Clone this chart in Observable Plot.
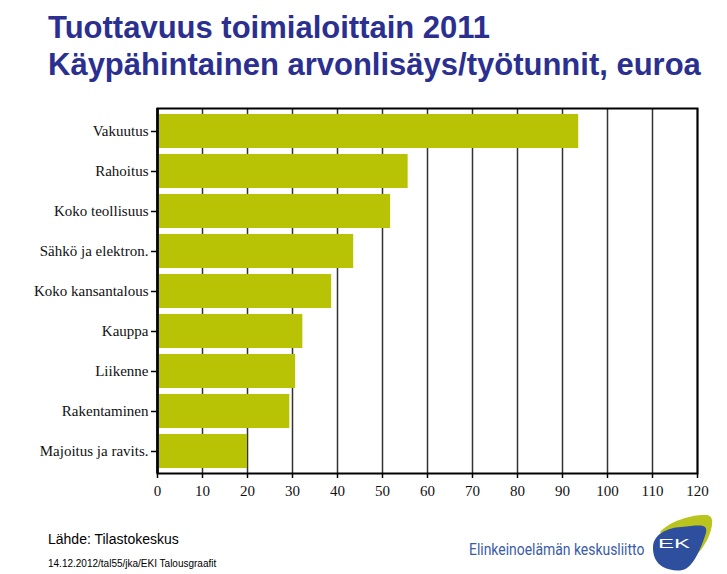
<!DOCTYPE html>
<html>
<head>
<meta charset="utf-8">
<script src="https://cdn.jsdelivr.net/npm/d3@7"></script>
<script src="https://cdn.jsdelivr.net/npm/@observablehq/plot@0.6"></script>
<style>
  html, body { margin: 0; padding: 0; background: #fff; }
  #page { position: relative; width: 727px; height: 574px; overflow: hidden; background: #fff; }
  .title { position: absolute; left: 48px; font-family: "Liberation Sans", Arial, sans-serif; font-weight: bold; font-size: 31px; color: #2b2f8f; white-space: nowrap; line-height: 1; }
  #chart { position: absolute; left: 0; top: 94px; }
  #chart svg { display: block; }
  .src { position: absolute; left: 48px; top: 531px; font-family: "Liberation Sans", Arial, sans-serif; font-size: 14px; color: #000; }
  .date { position: absolute; left: 48px; top: 558px; font-family: "Liberation Sans", Arial, sans-serif; font-size: 10px; color: #000; }
  .org { position: absolute; left: 469px; top: 540px; font-family: Roboto, "Open Sans", sans-serif; font-size: 16px; color: #3a5ca8; white-space: nowrap; transform: scaleX(0.87); transform-origin: left top; }
  #logo { position: absolute; left: 645px; top: 510px; }
</style>
</head>
<body>
<div id="page">
  <div class="title" style="top:12px">Tuottavuus toimialoittain 2011</div>
  <div class="title" style="top:49px">Käypähintainen arvonlisäys/työtunnit, euroa</div>
  <div id="chart"></div>
  <div class="src">Lähde: Tilastokeskus</div>
  <div class="date">14.12.2012/tal55/jka/EKI Talousgraafit</div>
  <div class="org">Elinkeinoelämän keskusliitto</div>
  <svg id="logo" width="75" height="62" viewBox="0 0 75 62">
    <path d="M15,22 C25,10 50,4 62,5 C68,6 68,12 66,20 C63,30 58,38 52,44 L30,40 Z" fill="#b9c51e"/>
    <path d="M8,38 C8,24 22,18 36,17 C46,16 54,15 58,16 C62,17 62,21 60,26 C56,38 50,52 42,58 C36,62 26,61 18,57 C11,53 8,46 8,38 Z" fill="#2e4f9e"/>
    <text x="13" y="38" font-family="Liberation Sans, Arial, sans-serif" font-size="13" fill="#fff" textLength="32" lengthAdjust="spacingAndGlyphs">EK</text>
  </svg>
</div>
<script>
const categories = ["Vakuutus", "Rahoitus", "Koko teollisuus", "Sähkö ja elektron.", "Koko kansantalous", "Kauppa", "Liikenne", "Rakentaminen", "Majoitus ja ravits."];
const values = [93.6, 55.7, 51.8, 43.6, 38.7, 32.3, 30.7, 29.4, 20.0];
const xTicks = [0, 10, 20, 30, 40, 50, 60, 70, 80, 90, 100, 110, 120];

const data = categories.map((c, i) => ({category: c, value: values[i]}));

const chart = Plot.plot({
  width: 727,
  height: 411,
  marginLeft: 157,
  marginRight: 30,
  marginTop: 14,
  marginBottom: 32,
  style: {fontFamily: "'Liberation Serif', 'Times New Roman', serif", fontSize: "15px", color: "#111", background: "#fff"},
  x: {domain: [0, 120], ticks: xTicks},
  y: {domain: categories, paddingInner: 0.15, paddingOuter: 0.12},
  marks: [
    Plot.gridX(xTicks, {stroke: "#333", strokeOpacity: 1, strokeWidth: 1.5}),
    Plot.barX(data, {x: "value", y: "category", fill: "#b8c305"}),
    Plot.frame({stroke: "#000", strokeWidth: 2}),
    Plot.ruleX([0], {stroke: "#000", strokeWidth: 2.5}),
    Plot.axisX({ticks: xTicks, tickSize: 5, tickPadding: 7, fontSize: 15, stroke: "#000", strokeWidth: 1.5, label: null, fill: "#111"}),
    Plot.axisY({tickSize: 6, tickPadding: 3, fontSize: 15, stroke: "#000", strokeWidth: 1.5, label: null, fill: "#111"})
  ]
});
document.getElementById("chart").appendChild(chart);
</script>
</body>
</html>
